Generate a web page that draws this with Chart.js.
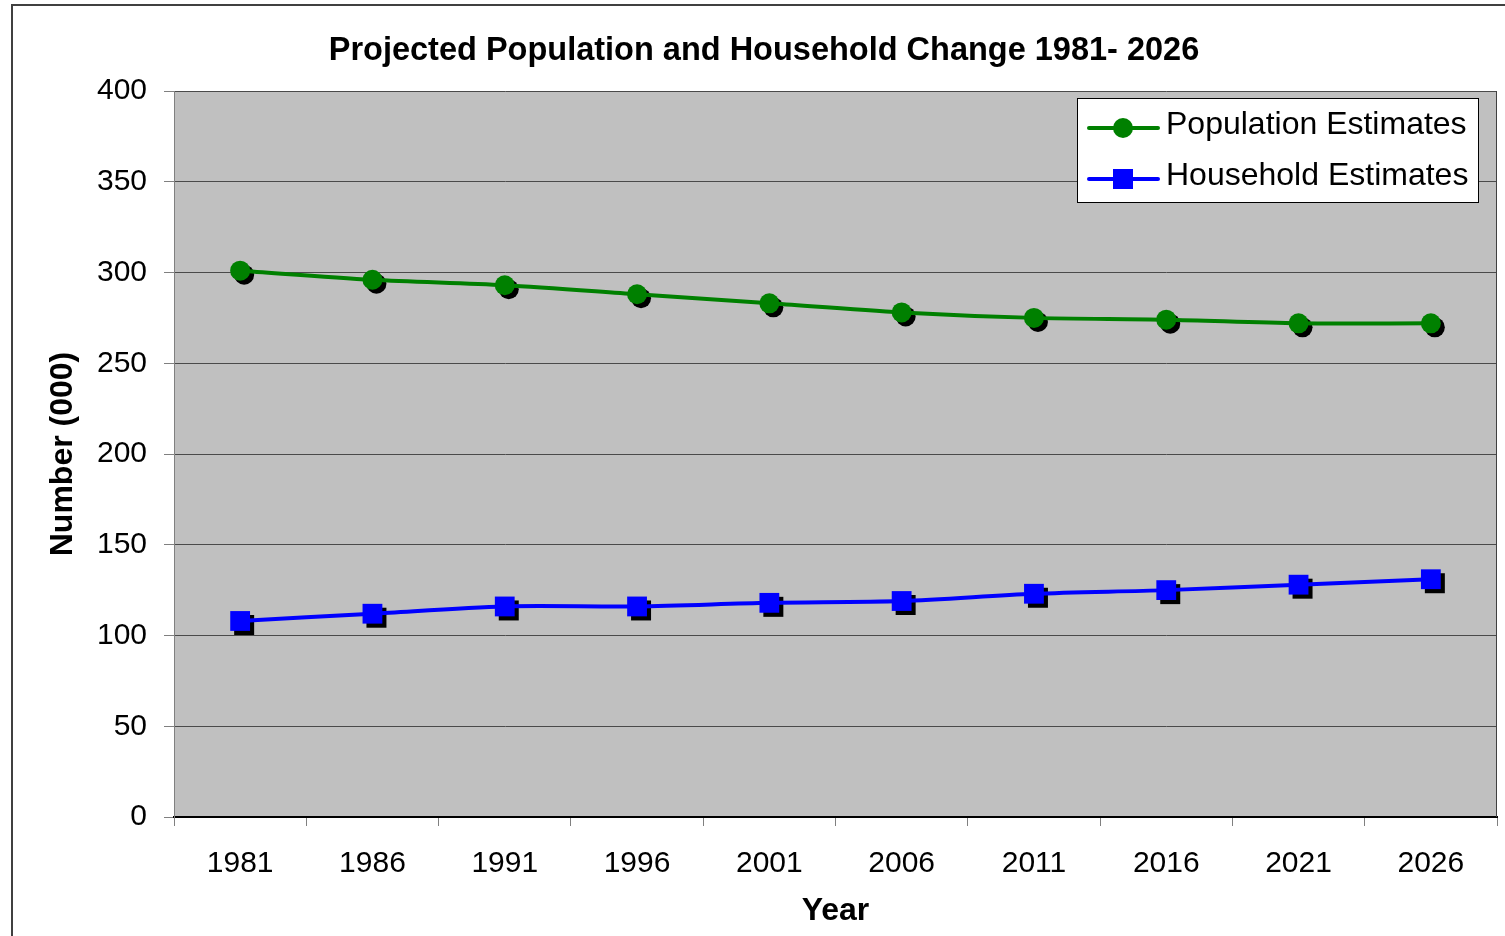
<!DOCTYPE html>
<html>
<head>
<meta charset="utf-8">
<title>Projected Population and Household Change 1981- 2026</title>
<script src="https://cdn.jsdelivr.net/npm/chart.js@4.4.1/dist/chart.umd.min.js"></script>
<style>
  html, body { margin: 0; padding: 0; background: #fff; overflow: hidden; }
  canvas { display: block; }
</style>
</head>
<body>
<!-- a few px wider than the window: Chart.js keeps room for the marker radius on the right -->
<canvas id="chart" width="1511" height="936"></canvas>
<script>
const FONT = "'Liberation Sans', Arial, sans-serif";

const years = ['1981', '1986', '1991', '1996', '2001', '2006', '2011', '2016', '2021', '2026'];
const population = [301, 296, 293, 288, 283, 278, 275, 274, 272, 272];
const households = [108, 112, 116, 116, 118, 119, 123, 125, 128, 131];
const yMin = 0, yMax = 400, yStep = 50;

const titleText = 'Projected Population and Household Change 1981- 2026';

// background, outer frame and plot fill
const backdrop = {
    id: 'backdrop',
    beforeDraw(chart) {
        const { ctx, chartArea: a } = chart;
        ctx.save();
        ctx.fillStyle = '#fff';
        ctx.fillRect(0, 0, chart.width, chart.height);
        ctx.strokeStyle = '#404040';
        ctx.lineWidth = 2;
        ctx.strokeRect(12, 5, chart.width + 20, chart.height + 20);
        ctx.fillStyle = '#c0c0c0';
        ctx.fillRect(a.left, a.top, a.right - a.left, a.bottom - a.top);
        ctx.restore();
    },
    afterDraw(chart) {
        const { ctx, chartArea: a } = chart;
        ctx.save();
        ctx.strokeStyle = '#404040';
        ctx.lineWidth = 1;
        ctx.beginPath();
        ctx.moveTo(a.right - 0.5, a.top);
        ctx.lineTo(a.right - 0.5, a.bottom);
        ctx.stroke();
        ctx.fillStyle = '#000';
        ctx.font = 'bold 32.5px ' + FONT;
        ctx.textAlign = 'center';
        ctx.textBaseline = 'middle';
        ctx.fillText(titleText, 764, 51);
        ctx.restore();
    }
};

function drawMarker(ctx, style, x, y, color) {
    ctx.fillStyle = color;
    ctx.beginPath();
    if (style === 'circle') {
        ctx.arc(x, y, 10, 0, Math.PI * 2);
    } else {
        ctx.rect(x - 10, y - 10, 20, 20);
    }
    ctx.fill();
}

// black drop shadow behind the markers
const markerShadow = {
    id: 'markerShadow',
    beforeDatasetDraw(chart, args) {
        const { ctx } = chart;
        const ds = chart.data.datasets[args.index];
        ctx.save();
        args.meta.data.forEach(pt => drawMarker(ctx, ds.pointStyle, pt.x + 4, pt.y + 4, '#000'));
        ctx.restore();
    }
};

// legend box inside the plot, top right
const boxLegend = {
    id: 'boxLegend',
    afterDraw(chart) {
        const { ctx } = chart;
        const left = 1077, top = 98, w = 402, h = 105;
        ctx.save();
        ctx.fillStyle = '#fff';
        ctx.fillRect(left, top, w, h);
        ctx.strokeStyle = '#000';
        ctx.lineWidth = 1;
        ctx.strokeRect(left + 0.5, top + 0.5, w - 1, h - 1);
        ctx.font = '32px ' + FONT;
        ctx.textAlign = 'left';
        ctx.textBaseline = 'middle';
        chart.data.datasets.forEach((ds, i) => {
            const y = 128 + i * 51;
            ctx.strokeStyle = ds.borderColor;
            ctx.lineWidth = 4;
            ctx.lineCap = 'round';
            ctx.beginPath();
            ctx.moveTo(1089, y);
            ctx.lineTo(1158, y);
            ctx.stroke();
            drawMarker(ctx, ds.pointStyle, 1123, y, ds.borderColor);
            ctx.fillStyle = '#000';
            ctx.fillText(ds.label, 1166, y - 3);
        });
        ctx.restore();
    }
};

new Chart(document.getElementById('chart'), {
    type: 'line',
    data: {
        labels: years,
        datasets: [
            {
                label: 'Population Estimates',
                data: population,
                borderColor: '#008000',
                backgroundColor: '#008000',
                borderWidth: 4,
                pointStyle: 'circle',
                pointRadius: 10,
                pointHoverRadius: 10,
                pointBorderWidth: 0,
                tension: 0.3,
            },
            {
                label: 'Household Estimates',
                data: households,
                borderColor: '#0000ff',
                backgroundColor: '#0000ff',
                borderWidth: 4,
                pointStyle: 'rect',
                pointRadius: 14,
                pointHoverRadius: 14,
                pointBorderWidth: 0,
                tension: 0.3,
            }
        ]
    },
    options: {
        responsive: false,
        animation: false,
        devicePixelRatio: 1,
        events: [],
        layout: { padding: { top: 91, right: 0, left: 0, bottom: 0 } },
        plugins: {
            legend: { display: false },
            title: { display: false },
            tooltip: { enabled: false }
        },
        scales: {
            x: {
                offset: true,
                grid: {
                    offset: true,
                    drawOnChartArea: false,
                    tickLength: 9,
                    tickColor: '#808080',
                },
                border: { color: '#000', width: 2 },
                ticks: { color: '#000', padding: 20, font: { family: FONT, size: 30 } },
                title: {
                    display: true,
                    text: 'Year',
                    color: '#000',
                    font: { family: FONT, size: 32, weight: 'bold' },
                    padding: { top: 0, bottom: 6 }
                },
                afterFit(scale) { scale.height = 119; }
            },
            y: {
                min: yMin,
                max: yMax,
                grid: {
                    color: '#4a4a4a',
                    tickColor: '#808080',
                    tickLength: 10,
                },
                border: { color: '#808080', width: 1 },
                ticks: { stepSize: yStep, color: '#000', padding: 17, font: { family: FONT, size: 30 } },
                title: {
                    display: true,
                    text: 'Number (000)',
                    color: '#000',
                    font: { family: FONT, size: 32, weight: 'bold' },
                    padding: { top: 44, bottom: 0 }
                },
                afterFit(scale) { scale.width = 174; }
            }
        }
    },
    plugins: [backdrop, markerShadow, boxLegend]
});
</script>
</body>
</html>
